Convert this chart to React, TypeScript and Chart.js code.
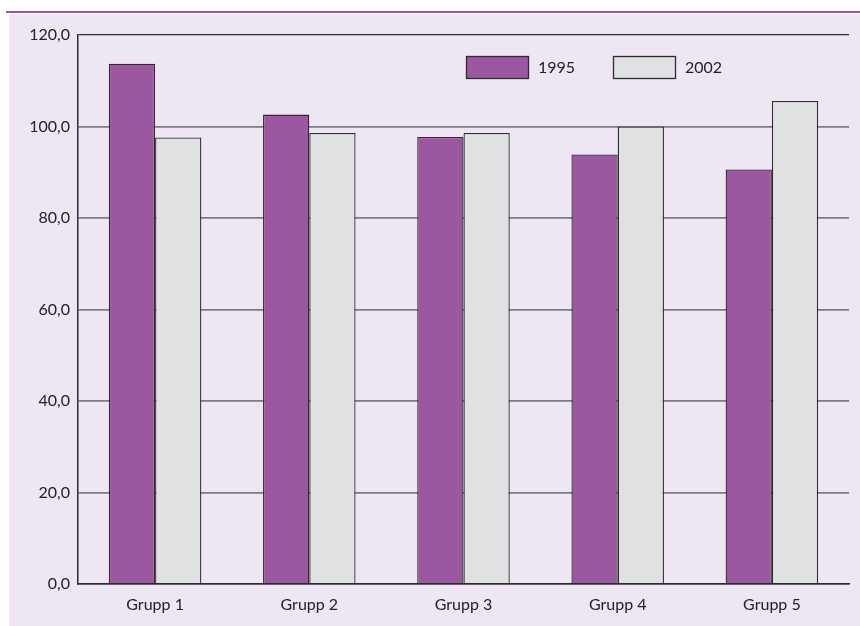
import React, { useEffect, useRef } from "react";
import { Chart, registerables } from "chart.js";

Chart.register(...registerables);

const categories = ["Grupp 1", "Grupp 2", "Grupp 3", "Grupp 4", "Grupp 5"];
const series1995 = [113.7, 102.6, 97.7, 93.9, 90.6];
const series2002 = [97.6, 98.6, 98.6, 100.0, 105.6];
const seriesLabels = ["1995", "2002"];
const yTicks = [0, 20, 40, 60, 80, 100, 120];

const PURPLE = "#9B58A1";
const GREY = "#E0E1E3";
const EDGE = "#2e2a30";
const BG = "#EEE6F2";
const FONT = "Lato, 'Open Sans', sans-serif";

const legendPlugin = {
  id: "boxLegend",
  afterDraw(chart: any) {
    const ctx = chart.ctx;
    const area = chart.chartArea;
    const items = [
      { label: seriesLabels[0], color: PURPLE, x: area.left + 388 },
      { label: seriesLabels[1], color: GREY, x: area.left + 535 },
    ];
    const y = area.top + 21;
    ctx.save();
    items.forEach((it) => {
      ctx.fillStyle = it.color;
      ctx.fillRect(it.x, y, 63, 23);
      ctx.strokeStyle = EDGE;
      ctx.lineWidth = 1.3;
      ctx.strokeRect(it.x + 0.5, y + 0.5, 62, 22);
      ctx.fillStyle = "#222";
      ctx.font = `16px ${FONT}`;
      ctx.textBaseline = "middle";
      ctx.textAlign = "left";
      ctx.fillText(it.label, it.x + 72, y + 12);
    });
    ctx.restore();
  },
};

export default function App() {
  const ref = useRef<HTMLCanvasElement | null>(null);
  useEffect(() => {
    if (!ref.current) return;
    const chart = new Chart(ref.current, {
      type: "bar",
      data: {
        labels: categories,
        datasets: [
          {
            label: seriesLabels[0],
            data: series1995,
            backgroundColor: PURPLE,
            borderColor: EDGE,
            borderWidth: 1.3,
            categoryPercentage: 0.6,
            barPercentage: 1.0,
          },
          {
            label: seriesLabels[1],
            data: series2002,
            backgroundColor: GREY,
            borderColor: EDGE,
            borderWidth: 1.3,
            categoryPercentage: 0.6,
            barPercentage: 1.0,
          },
        ],
      },
      options: {
        animation: false,
        responsive: false,
        maintainAspectRatio: false,
        layout: { padding: { left: 0, right: 11, top: 21, bottom: 0 } },
        plugins: {
          legend: { display: false },
          tooltip: { enabled: false },
          title: { display: false },
        },
        scales: {
          x: {
            grid: { display: false, drawTicks: false },
            border: { display: true, color: EDGE, width: 1.5 },
            ticks: {
              color: "#222",
              font: { family: FONT, size: 16 },
              padding: 11,
            },
            afterFit: (s: any) => {
              s.height = 42;
            },
          },
          y: {
            min: 0,
            max: 120,
            afterBuildTicks: (s: any) => {
              s.ticks = yTicks.map((v) => ({ value: v }));
            },
            grid: {
              drawTicks: false,
              color: (c: any) => (c.tick && c.tick.value === 120 ? EDGE : "#7d7a80"),
              lineWidth: (c: any) => (c.tick && c.tick.value === 120 ? 1.3 : 1.8),
            },
            border: { display: true, color: EDGE, width: 1.5 },
            ticks: {
              color: "#222",
              font: { family: FONT, size: 16 },
              padding: 8,
              callback: (v: any) => Number(v).toFixed(1).replace(".", ","),
            },
            afterFit: (s: any) => {
              s.width = 69;
            },
          },
        },
      },
      plugins: [legendPlugin],
    });
    return () => chart.destroy();
  }, []);

  return (
    <div style={{ position: "absolute", left: 0, top: 0, width: 860, height: 626, background: "#fff", overflow: "hidden" }}>
      <div style={{ position: "absolute", left: 6, top: 11, width: 854, height: 2, background: "#9B58A1" }} />
      <div style={{ position: "absolute", left: 9, top: 14, width: 851, height: 612, background: BG }}>
        <canvas ref={ref} width={851} height={612} style={{ display: "block" }} />
      </div>
    </div>
  );
}
